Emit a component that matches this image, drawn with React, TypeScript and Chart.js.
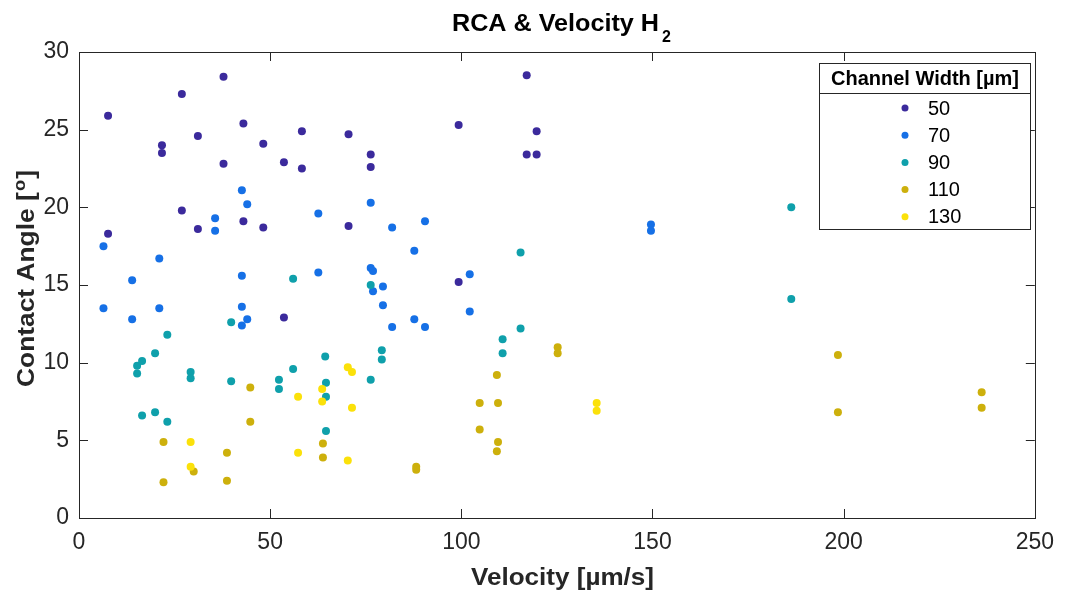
import React, { useEffect, useRef } from 'react';
import { Chart, registerables } from 'chart.js';

Chart.register(...registerables);

// Channel widths (legend labels) and colours
const channelWidths = ['50', '70', '90', '110', '130'];
const seriesColors = ['#3b2a9c', '#1670e6', '#0fa0ab', '#cdb00c', '#fbe10a'];

// Width 50 µm
const vel50 = [7.6, 7.6, 21.7, 21.7, 26.9, 26.9, 31.1, 31.1, 37.8, 37.8, 43.0, 43.0, 48.2, 48.2, 53.6, 53.6, 58.3, 58.3, 70.5, 70.5, 76.3, 76.3, 99.3, 99.3, 117.1, 117.1, 119.7, 119.7];
const ang50 = [25.9, 18.3, 24.0, 23.5, 27.3, 19.8, 24.6, 18.6, 28.4, 22.8, 25.4, 19.1, 24.1, 18.7, 22.9, 12.9, 24.9, 22.5, 24.7, 18.8, 23.4, 22.6, 25.3, 15.2, 28.5, 23.4, 24.9, 23.4];

// Width 70 µm
const vel70 = [6.4, 6.4, 13.9, 13.9, 21.0, 21.0, 35.6, 35.6, 42.6, 42.6, 42.6, 42.6, 44.0, 44.0, 62.6, 62.6, 76.3, 76.3, 76.9, 76.9, 79.5, 79.5, 81.9, 81.9, 87.7, 87.7, 90.5, 90.5, 102.2, 102.2, 149.6, 149.6];
const ang70 = [17.5, 13.5, 15.3, 12.8, 16.7, 13.5, 19.3, 18.5, 21.1, 15.6, 13.6, 12.4, 20.2, 12.8, 19.6, 15.8, 20.3, 16.1, 15.9, 14.6, 14.9, 13.7, 18.7, 12.3, 17.2, 12.8, 19.1, 12.3, 15.7, 13.3, 18.9, 18.5];

// Width 90 µm
const vel90 = [15.2, 15.2, 16.5, 16.5, 19.9, 19.9, 23.1, 23.1, 29.2, 29.2, 39.8, 39.8, 52.3, 52.3, 56.0, 56.0, 64.4, 64.6, 64.6, 64.6, 76.3, 76.3, 79.2, 79.2, 110.8, 110.8, 115.5, 115.5, 186.3, 186.3];
const ang90 = [9.8, 9.3, 10.1, 6.6, 10.6, 6.8, 11.8, 6.2, 9.4, 9.0, 12.6, 8.8, 8.9, 8.3, 15.4, 9.6, 10.4, 8.7, 7.8, 5.6, 15.0, 8.9, 10.8, 10.2, 11.5, 10.6, 17.1, 12.2, 20.0, 14.1];

// Width 110 µm
const vel110 = [22.1, 22.1, 30.0, 38.7, 38.7, 44.8, 44.8, 63.8, 63.8, 88.2, 88.2, 104.8, 104.8, 109.3, 109.3, 109.6, 109.6, 125.2, 125.2, 198.5, 198.5, 236.1, 236.1];
const ang110 = [4.9, 2.3, 3.0, 4.2, 2.4, 8.4, 6.2, 4.8, 3.9, 3.3, 3.1, 7.4, 5.7, 9.2, 4.3, 7.4, 4.9, 11.0, 10.6, 10.5, 6.8, 8.1, 7.1];

// Width 130 µm
const vel130 = [29.2, 29.2, 57.3, 57.3, 63.6, 63.6, 70.3, 70.3, 71.4, 71.4, 135.4, 135.4];
const ang130 = [4.9, 3.3, 7.8, 4.2, 8.3, 7.5, 9.7, 3.7, 9.4, 7.1, 7.4, 6.9];

const xTickValues = [0, 50, 100, 150, 200, 250];
const yTickValues = [0, 5, 10, 15, 20, 25, 30];

const titleMain = 'RCA & Velocity H';
const titleSub = '2';
const xTitle = 'Velocity [µm/s]';
const yTitleMain = 'Contact Angle [';
const yTitleSup = 'o';
const yTitleEnd = ']';
const legendTitle = 'Channel Width [µm]';

const INK = '#262626';
const FONT = '"Liberation Sans", Arial, Helvetica, sans-serif';

const seriesX = [vel50, vel70, vel90, vel110, vel130];
const seriesY = [ang50, ang70, ang90, ang110, ang130];

function drawScaledText(ctx: CanvasRenderingContext2D, text: string, x: number, y: number, font: string, targetWidth: number, align: 'left' | 'center') {
  ctx.save();
  ctx.font = font;
  const w = ctx.measureText(text).width;
  const sx = targetWidth / w;
  const startX = align === 'center' ? x - targetWidth / 2 : x;
  ctx.translate(startX, y);
  ctx.scale(sx, 1);
  ctx.textAlign = 'left';
  ctx.fillText(text, 0, 0);
  ctx.restore();
}

const decorPlugin = {
  id: 'decor',
  beforeDraw(chart: any) {
    const ctx = chart.ctx as CanvasRenderingContext2D;
    ctx.save();
    ctx.fillStyle = '#ffffff';
    ctx.fillRect(0, 0, chart.width, chart.height);
    ctx.restore();
  },
  afterDraw(chart: any) {
    const ctx = chart.ctx as CanvasRenderingContext2D;
    const { left, right, top, bottom } = chart.chartArea;
    const xs = chart.scales.x;
    const ys = chart.scales.y;
    ctx.save();
    // frame
    ctx.strokeStyle = INK;
    ctx.lineWidth = 1;
    ctx.strokeRect(Math.round(left) + 0.5, Math.round(top) + 0.5, Math.round(right - left), Math.round(bottom - top));
    // inward ticks
    const tl = 9;
    ctx.beginPath();
    xTickValues.forEach((v) => {
      const px = Math.round(xs.getPixelForValue(v)) + 0.5;
      ctx.moveTo(px, bottom);
      ctx.lineTo(px, bottom - tl);
      ctx.moveTo(px, top);
      ctx.lineTo(px, top + tl);
    });
    yTickValues.forEach((v) => {
      const py = Math.round(ys.getPixelForValue(v)) + 0.5;
      ctx.moveTo(left, py);
      ctx.lineTo(left + tl, py);
      ctx.moveTo(right, py);
      ctx.lineTo(right - tl, py);
    });
    ctx.stroke();

    // title
    ctx.fillStyle = '#000000';
    ctx.textBaseline = 'alphabetic';
    drawScaledText(ctx, titleMain, 452, 31, `bold 23px ${FONT}`, 207, 'left');
    ctx.font = `bold 16px ${FONT}`;
    ctx.textAlign = 'left';
    ctx.fillText(titleSub, 662, 42);

    // x title
    ctx.fillStyle = INK;
    drawScaledText(ctx, xTitle, 562.5, 585, `bold 23px ${FONT}`, 183, 'center');

    // y title (rotated) with superscript
    ctx.save();
    ctx.translate(34, 387);
    ctx.rotate(-Math.PI / 2);
    const f1 = `bold 23px ${FONT}`;
    const f2 = `bold 16px ${FONT}`;
    ctx.font = f1;
    const w1 = ctx.measureText(yTitleMain).width;
    const w3 = ctx.measureText(yTitleEnd).width;
    ctx.font = f2;
    const w2 = ctx.measureText(yTitleSup).width + 2;
    const total = w1 + w2 + w3;
    const sx = 217 / total;
    ctx.scale(sx, 1);
    ctx.textAlign = 'left';
    ctx.font = f1;
    ctx.fillText(yTitleMain, 0, 0);
    ctx.font = f2;
    ctx.fillText(yTitleSup, w1 + 1, -9);
    ctx.font = f1;
    ctx.fillText(yTitleEnd, w1 + w2, 0);
    ctx.restore();

    // legend
    const lx = 819.5, ly = 63.5, lw = 211, lh = 166, hdr = 30;
    ctx.fillStyle = '#ffffff';
    ctx.fillRect(lx, ly, lw, lh);
    ctx.strokeStyle = INK;
    ctx.lineWidth = 1;
    ctx.strokeRect(lx, ly, lw, lh);
    ctx.beginPath();
    ctx.moveTo(lx, ly + hdr);
    ctx.lineTo(lx + lw, ly + hdr);
    ctx.stroke();
    ctx.fillStyle = '#000000';
    ctx.textBaseline = 'middle';
    ctx.font = `bold 20px ${FONT}`;
    ctx.textAlign = 'center';
    ctx.fillText(legendTitle, lx + lw / 2, ly + 15.5);
    chart.data.datasets.forEach((ds: any, i: number) => {
      const ry = 108 + i * 27.2;
      ctx.beginPath();
      ctx.fillStyle = ds.backgroundColor;
      ctx.arc(905, ry, 3.5, 0, Math.PI * 2);
      ctx.fill();
      ctx.fillStyle = '#000000';
      ctx.font = `20px ${FONT}`;
      ctx.textAlign = 'left';
      ctx.fillText(ds.label, 928, ry + 1);
    });
    ctx.restore();
  },
};

export default function App() {
  const canvasRef = useRef<HTMLCanvasElement | null>(null);

  useEffect(() => {
    if (!canvasRef.current) return;
    const datasets = channelWidths.map((label, i) => ({
      label,
      data: seriesX[i].map((x, j) => ({ x, y: seriesY[i][j] })),
      backgroundColor: seriesColors[i],
      borderColor: seriesColors[i],
      borderWidth: 0,
      pointRadius: 4,
      pointHoverRadius: 4,
      order: channelWidths.length - i,
    }));
    const tickFont = { family: FONT, size: 23 };
    const chart = new Chart(canvasRef.current, {
      type: 'scatter',
      data: { datasets },
      options: {
        responsive: false,
        devicePixelRatio: 1,
        animation: false,
        layout: { padding: { left: 0, top: 52, right: 29, bottom: 0 } },
        plugins: {
          legend: { display: false },
          title: { display: false },
          tooltip: { enabled: false },
        },
        scales: {
          x: {
            type: 'linear',
            min: 0,
            max: 250,
            afterBuildTicks: (scale: any) => {
              scale.ticks = xTickValues.map((v) => ({ value: v }));
            },
            afterFit: (scale: any) => {
              scale.height = 76;
            },
            grid: { display: false, drawTicks: false },
            border: { display: false },
            ticks: { font: tickFont, color: INK, padding: 11, maxRotation: 0 },
          },
          y: {
            type: 'linear',
            min: 0,
            max: 30,
            afterBuildTicks: (scale: any) => {
              scale.ticks = yTickValues.map((v) => ({ value: v }));
            },
            afterFit: (scale: any) => {
              scale.width = 79;
            },
            grid: { display: false, drawTicks: false },
            border: { display: false },
            ticks: { font: tickFont, color: INK, padding: 10 },
          },
        },
      } as any,
      plugins: [decorPlugin],
    });
    return () => chart.destroy();
  }, []);

  return (
    <div style={{ position: 'absolute', left: 0, top: 0, width: 1065, height: 594 }}>
      <canvas ref={canvasRef} width={1065} height={594} style={{ width: 1065, height: 594 }} />
    </div>
  );
}
